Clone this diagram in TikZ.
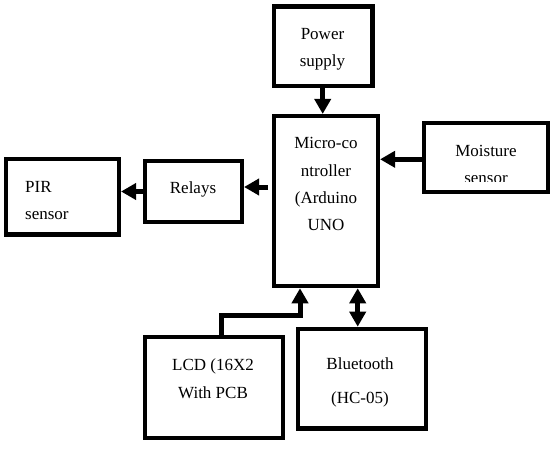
\documentclass[tikz,border=0pt]{standalone}
\usepackage{fontspec}
\setmainfont{Liberation Serif}
\usetikzlibrary{arrows.meta}
\tikzset{
  box/.style={draw, line width=4.5pt, rectangle, inner sep=0pt},
  lbl/.style={anchor=base, inner sep=0pt, font=\fontsize{17}{20}\selectfont},
  lbll/.style={anchor=base west, inner sep=0pt, font=\fontsize{17}{20}\selectfont},
  arr/.style={line width=5pt, line join=miter, -{Triangle[width=16pt,length=15pt]}},
  arrtwo/.style={line width=5pt, {Triangle[width=16pt,length=15pt]}-{Triangle[width=16pt,length=15pt]}}
}
\begin{document}
\begin{tikzpicture}[x=1pt,y=-1pt]
\useasboundingbox (0,0) rectangle (556,449);
% boxes
\node[box, minimum width=98.7pt, minimum height=79.2pt] (pw) at (323.3,46.2) {};
\node[box, minimum width=103.6pt, minimum height=169.8pt] (mc) at (326,201.1) {};
\node[box, minimum width=123.6pt, minimum height=68.8pt] (ms) at (486,157.6) {};
\node[box, minimum width=96.6pt, minimum height=60.6pt] (rl) at (193.5,191.5) {};
\node[box, minimum width=112.6pt, minimum height=75.5pt] (pir) at (62.5,196.7) {};
\node[box, minimum width=137.8pt, minimum height=100.6pt] (lcd) at (213.9,387.5) {};
\node[box, minimum width=127.8pt, minimum height=99.5pt] (bt) at (361.9,378.7) {};
% texts
\node[lbl] (pwa) at (322.5,40) {Power};
\node[lbl] (pwb) at (322.5,66.7) {supply};
\node[lbl] (mca) at (326,149) {Micro-co};
\node[lbl] (mcb) at (326,176) {ntroller};
\node[lbl] (mcc) at (326,203) {(Arduino};
\node[lbl] (mcd) at (326,230) {UNO};
\node[lbl] (msa) at (486,156.7) {Moisture};
\begin{scope}
\clip (420,120) rectangle (552,181.7);
\node[lbl] (msb) at (486,183.5) {sensor};
\end{scope}
\node[lbl] (rla) at (193,193) {Relays};
\node[lbll] (pira) at (25,192) {PIR};
\node[lbll] (pirb) at (25,219) {sensor};
\node[lbl] (lcda) at (213,370.7) {LCD (16X2};
\node[lbl] (lcdb) at (213,398) {With PCB};
\node[lbl] (bta) at (360,369) {Bluetooth};
\node[lbl] (btb) at (360,403) {(HC-05)};
% connectors
\draw[arr] ([xshift=-0.6pt]pw.south) -- ([xshift=-0.6pt]pw.south |- mc.north);
\draw[arr] ([yshift=-1.7pt]ms.west) -- ([yshift=-1.7pt]ms.west -| mc.east);
\coordinate (rlsrc) at (268,187);
\draw[arr] (rlsrc) -- (rlsrc -| rl.east);
\draw[arr] (rl.west) -- (rl.west -| pir.east);
\coordinate (lcdbend) at (300,315);
\draw[arr] ([xshift=8pt]lcd.north) |- (lcdbend) -- (lcdbend |- mc.south);
\draw[arrtwo] ([xshift=-4.2pt]bt.north) -- ([xshift=-4.2pt]bt.north |- mc.south);
\end{tikzpicture}
\end{document}
